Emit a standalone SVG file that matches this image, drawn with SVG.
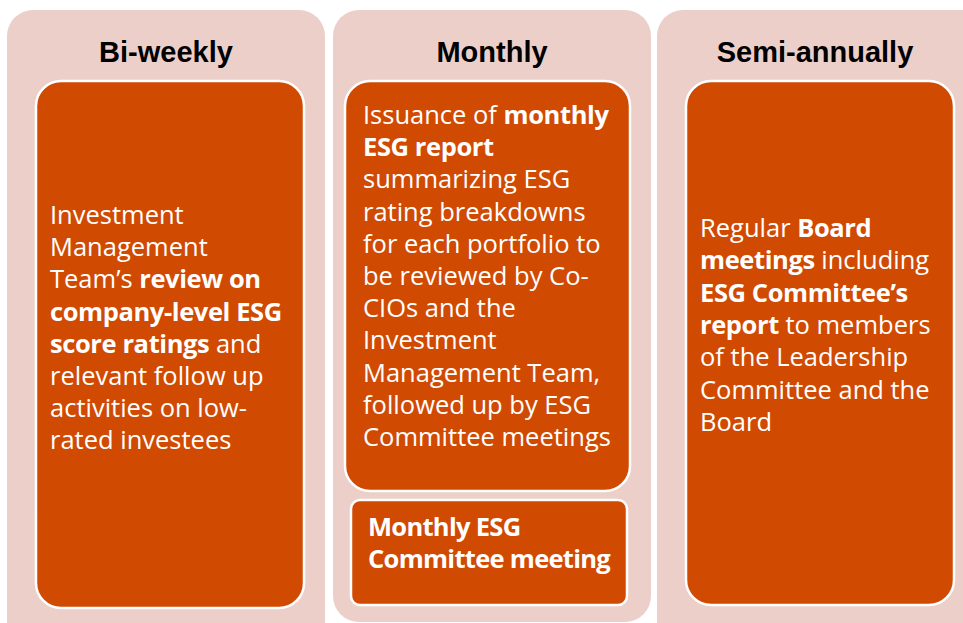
<svg xmlns="http://www.w3.org/2000/svg" width="963" height="623" viewBox="0 0 963 623">
<style>
.col{fill:#EDCFCA}
.box{fill:#D14A02;stroke:#FFFFFF;stroke-width:2.5}
.hd{font-family:"Liberation Sans",Arial,sans-serif;font-weight:bold;font-size:29px;fill:#000;text-anchor:middle}
.tx{font-family:"Open Sans","Noto Sans",sans-serif;font-size:25.5px;fill:#FFF}
.b{font-weight:bold;letter-spacing:-0.4px}
.sm{letter-spacing:-0.7px}
</style>
<rect width="963" height="623" fill="#FFFFFF"/>
<g id="col-biweekly">
<rect class="col" x="7" y="10" width="318" height="640" rx="26"/>
<text class="hd" x="166" y="62">Bi-weekly</text>
<g id="node-biweekly">
<rect class="box" x="36" y="81" width="268" height="527" rx="25"/>
<text class="tx" x="50" y="224">
<tspan x="50">Investment</tspan>
<tspan x="50" dy="32.2">Management</tspan>
<tspan x="50" dy="32.2">Team’s <tspan class="b">review on</tspan></tspan>
<tspan x="50" dy="32.2" class="b">company-level ESG</tspan>
<tspan x="50" dy="32.2"><tspan class="b">score ratings</tspan> and</tspan>
<tspan x="50" dy="32.2">relevant follow up</tspan>
<tspan x="50" dy="32.2">activities on low-</tspan>
<tspan x="50" dy="32.2">rated investees</tspan>
</text>
</g>
</g>
<g id="col-monthly">
<rect class="col" x="333" y="10" width="318" height="612" rx="26"/>
<text class="hd" x="492" y="62">Monthly</text>
<g id="node-monthly-report">
<rect class="box" x="345" y="81" width="285" height="410" rx="25"/>
<text class="tx" x="363" y="124">
<tspan x="363">Issuance of <tspan class="b">monthly</tspan></tspan>
<tspan x="363" dy="32.2" class="b">ESG report</tspan>
<tspan x="363" dy="32.2">summarizing ESG</tspan>
<tspan x="363" dy="32.2">rating breakdowns</tspan>
<tspan x="363" dy="32.2">for each portfolio to</tspan>
<tspan x="363" dy="32.2">be reviewed by Co-</tspan>
<tspan x="363" dy="32.2">CIOs and the</tspan>
<tspan x="363" dy="32.2">Investment</tspan>
<tspan x="363" dy="32.2">Management Team,</tspan>
<tspan x="363" dy="32.2">followed up by ESG</tspan>
<tspan x="363" dy="32.2">Committee meetings</tspan>
</text>
</g>
<g id="node-monthly-meeting">
<rect class="box" x="351" y="500" width="276" height="105" rx="9"/>
<text class="tx b sm" x="368" y="536">
<tspan x="368">Monthly ESG</tspan>
<tspan x="368" dy="32">Committee meeting</tspan>
</text>
</g>
</g>
<g id="col-semiannually">
<rect class="col" x="657" y="10" width="340" height="640" rx="26"/>
<text class="hd" x="815" y="62">Semi-annually</text>
<g id="node-semiannually">
<rect class="box" x="686" y="81" width="268" height="524" rx="25"/>
<text class="tx" x="700" y="237">
<tspan x="700">Regular <tspan class="b">Board</tspan></tspan>
<tspan x="700" dy="32.3"><tspan class="b">meetings</tspan> including</tspan>
<tspan x="700" dy="32.3" class="b">ESG Committee’s</tspan>
<tspan x="700" dy="32.3"><tspan class="b">report</tspan> to members</tspan>
<tspan x="700" dy="32.3">of the Leadership</tspan>
<tspan x="700" dy="32.3">Committee and the</tspan>
<tspan x="700" dy="32.3">Board</tspan>
</text>
</g>
</g>
<g id="connectors"/>
</svg>
